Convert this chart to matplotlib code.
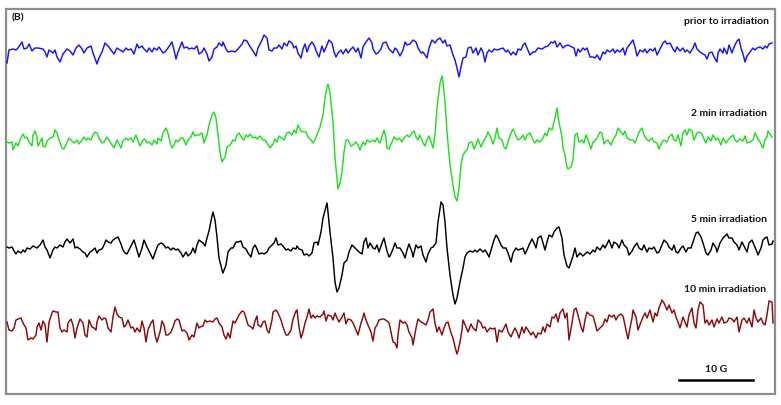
import numpy as np
import matplotlib
matplotlib.use("Agg")
import matplotlib.pyplot as plt

# ==========================================
# Traces, (field, y)
# field and y are in picture pixels
# ==========================================
prior = [
    (7, 63), (9, 50), (13, 49), (16, 50), (18, 48), (22, 42), (24, 49), (27, 48), (29, 44), (32, 51),
    (35, 48), (38, 48), (43, 49), (45, 52), (47, 57), (49, 50), (53, 53), (55, 50), (57, 57), (60, 62),
    (63, 54), (67, 49), (70, 51), (73, 55), (76, 48), (79, 45), (82, 49), (84, 53), (87, 48), (91, 46),
    (93, 53), (97, 64), (99, 58), (102, 52), (105, 43), (108, 46), (111, 50), (114, 54), (117, 48), (120, 50),
    (123, 52), (126, 48), (128, 50), (131, 49), (134, 54), (137, 44), (139, 48), (142, 46), (144, 49), (147, 52),
    (149, 48), (152, 52), (154, 48), (157, 50), (159, 47), (163, 53), (165, 52), (168, 48), (172, 42), (174, 50),
    (176, 59), (178, 52), (182, 42), (184, 48), (187, 47), (189, 49), (192, 48), (194, 49), (197, 46), (199, 54),
    (202, 52), (204, 48), (207, 54), (209, 61), (212, 57), (214, 49), (217, 47), (219, 43), (222, 46), (223, 42),
    (226, 49), (228, 52), (232, 51), (235, 52), (238, 49), (242, 44), (244, 40), (247, 41), (249, 45), (253, 51),
    (256, 56), (258, 48), (262, 40), (264, 35), (267, 38), (269, 50), (272, 51), (274, 48), (277, 48), (279, 45),
    (282, 49), (284, 43), (287, 46), (289, 41), (292, 43), (294, 48), (296, 46), (298, 53), (301, 58), (303, 49),
    (305, 44), (307, 52), (309, 46), (312, 42), (314, 45), (317, 53), (319, 57), (322, 46), (324, 52), (327, 45),
    (329, 40), (332, 43), (334, 52), (336, 57), (338, 53), (341, 50), (343, 54), (346, 49), (348, 53), (351, 49),
    (353, 47), (356, 52), (358, 48), (361, 58), (363, 47), (366, 42), (369, 38), (372, 43), (373, 49), (376, 54),
    (378, 53), (381, 49), (383, 43), (386, 42), (389, 49), (390, 50), (393, 53), (395, 48), (397, 50), (400, 56),
    (403, 50), (405, 42), (407, 45), (410, 44), (413, 40), (416, 42), (418, 48), (421, 53), (423, 52), (427, 58),
    (429, 48), (432, 40), (435, 43), (437, 40), (440, 38), (443, 43), (445, 40), (447, 46), (450, 45), (453, 55),
    (455, 60), (457, 68), (459, 77), (461, 67), (463, 58), (466, 57), (468, 48), (471, 47), (473, 53), (476, 48),
    (478, 55), (481, 48), (483, 52), (485, 62), (487, 53), (489, 50), (492, 52), (494, 49), (497, 50), (500, 49),
    (503, 48), (506, 52), (508, 50), (511, 55), (513, 52), (516, 55), (518, 49), (521, 50), (523, 45), (525, 43),
    (527, 48), (530, 55), (533, 52), (535, 52), (538, 48), (542, 49), (545, 47), (548, 46), (551, 42), (553, 43),
    (555, 41), (557, 47), (560, 43), (563, 48), (565, 46), (568, 45), (572, 47), (574, 48), (576, 56), (578, 49),
    (580, 52), (583, 48), (585, 50), (587, 48), (590, 57), (593, 57), (595, 58), (597, 55), (600, 60), (603, 52),
    (605, 54), (607, 50), (610, 52), (613, 49), (615, 53), (617, 50), (620, 52), (623, 48), (625, 55), (627, 48),
    (630, 44), (633, 40), (635, 47), (637, 56), (640, 50), (643, 52), (645, 49), (647, 53), (650, 49), (653, 51),
    (655, 48), (657, 55), (660, 49), (663, 43), (665, 41), (667, 44), (670, 43), (673, 49), (675, 52), (677, 47),
    (680, 51), (683, 48), (685, 52), (687, 50), (690, 53), (693, 48), (695, 43), (697, 49), (700, 52), (703, 54),
    (705, 55), (707, 59), (709, 53), (712, 52), (714, 57), (717, 62), (718, 53), (720, 49), (723, 53), (724, 48),
    (727, 54), (729, 45), (732, 53), (734, 47), (737, 41), (739, 39), (741, 48), (743, 54), (745, 62), (747, 56),
    (750, 52), (753, 48), (755, 50), (757, 48), (760, 47), (763, 49), (765, 46), (767, 48), (769, 44), (772, 43),
]

min2 = [
    (7, 142), (9, 143), (12, 142), (13, 150), (16, 143), (18, 146), (20, 140), (23, 134), (25, 138), (27, 137),
    (29, 142), (32, 146), (33, 135), (35, 131), (37, 137), (38, 146), (40, 142), (42, 138), (43, 146), (45, 147),
    (47, 141), (50, 138), (53, 137), (55, 130), (57, 133), (59, 140), (62, 148), (64, 149), (67, 142), (69, 138),
    (72, 141), (74, 143), (77, 140), (79, 144), (82, 140), (84, 137), (86, 140), (88, 138), (91, 140), (93, 135),
    (95, 132), (97, 133), (99, 138), (102, 143), (104, 142), (107, 137), (109, 140), (112, 145), (114, 148), (117, 140),
    (118, 142), (121, 148), (123, 141), (126, 138), (128, 140), (131, 138), (133, 142), (136, 135), (138, 141), (140, 146),
    (143, 140), (145, 139), (147, 143), (149, 142), (152, 145), (154, 140), (157, 144), (158, 138), (161, 141), (163, 133),
    (166, 128), (168, 133), (170, 142), (172, 148), (174, 145), (176, 140), (178, 142), (181, 138), (183, 138), (186, 145),
    (188, 140), (191, 137), (193, 132), (195, 136), (197, 135), (199, 135), (202, 133), (204, 143), (207, 135), (209, 125),
    (212, 115), (214, 112), (216, 118), (218, 135), (220, 152), (222, 162), (225, 157), (227, 147), (230, 145), (233, 140),
    (235, 141), (237, 135), (239, 133), (242, 138), (244, 140), (246, 135), (248, 137), (250, 134), (253, 138), (255, 137),
    (257, 139), (260, 136), (263, 140), (265, 140), (267, 143), (270, 148), (273, 144), (275, 139), (277, 142), (279, 136),
    (282, 138), (284, 140), (287, 133), (289, 132), (292, 135), (294, 130), (296, 133), (298, 125), (301, 131), (303, 132),
    (306, 132), (308, 137), (311, 140), (313, 143), (315, 140), (317, 135), (320, 127), (323, 115), (325, 98), (327, 87),
    (328, 84), (330, 93), (333, 122), (335, 158), (337, 178), (338, 189), (340, 183), (342, 172), (344, 152), (346, 140),
    (348, 140), (351, 146), (353, 145), (356, 142), (358, 145), (360, 150), (363, 142), (365, 145), (367, 140), (370, 142),
    (373, 140), (375, 142), (377, 138), (380, 143), (383, 133), (384, 130), (386, 138), (387, 148), (389, 149), (392, 142),
    (394, 137), (397, 140), (399, 138), (402, 142), (404, 138), (407, 135), (409, 137), (412, 133), (414, 131), (416, 137),
    (418, 140), (420, 135), (423, 143), (425, 146), (427, 140), (429, 136), (432, 145), (433, 148), (435, 135), (437, 108),
    (440, 83), (442, 76), (443, 82), (445, 102), (447, 132), (450, 165), (453, 185), (455, 197), (457, 201), (459, 188),
    (461, 165), (463, 155), (465, 152), (467, 150), (469, 143), (472, 142), (474, 149), (476, 145), (478, 139), (481, 147),
    (483, 142), (486, 137), (488, 132), (491, 138), (493, 144), (495, 138), (497, 128), (499, 138), (502, 140), (504, 147),
    (506, 149), (508, 142), (511, 133), (513, 129), (516, 136), (518, 140), (521, 138), (523, 135), (525, 140), (527, 135),
    (530, 133), (533, 140), (535, 143), (537, 140), (540, 142), (543, 138), (545, 133), (547, 136), (549, 128), (552, 130),
    (554, 122), (557, 108), (559, 122), (562, 137), (563, 148), (565, 155), (567, 167), (568, 169), (571, 167), (573, 160),
    (575, 135), (577, 133), (579, 142), (582, 140), (584, 143), (586, 135), (588, 140), (591, 149), (593, 142), (595, 141),
    (597, 138), (600, 132), (602, 133), (604, 144), (606, 141), (608, 140), (611, 145), (613, 140), (616, 135), (618, 128),
    (621, 132), (623, 135), (625, 131), (627, 138), (630, 140), (633, 140), (635, 143), (637, 138), (639, 132), (642, 128),
    (644, 135), (647, 140), (649, 141), (652, 138), (654, 142), (657, 143), (659, 149), (662, 142), (664, 140), (667, 142),
    (669, 137), (672, 134), (674, 140), (676, 141), (678, 135), (681, 146), (683, 133), (685, 130), (687, 135), (689, 129),
    (692, 131), (694, 140), (697, 133), (699, 132), (702, 134), (704, 139), (706, 143), (708, 137), (711, 141), (713, 135),
    (716, 140), (718, 138), (721, 145), (723, 138), (726, 143), (728, 140), (731, 137), (733, 135), (735, 140), (737, 142),
    (740, 139), (743, 141), (745, 136), (747, 143), (750, 142), (753, 140), (755, 133), (757, 137), (760, 142), (763, 148),
    (765, 140), (767, 137), (768, 131), (770, 134), (772, 137),
]

min5 = [
    (7, 247), (9, 248), (12, 247), (14, 251), (16, 254), (18, 251), (21, 253), (23, 250), (25, 252), (27, 248),
    (30, 249), (33, 246), (35, 247), (37, 248), (40, 245), (43, 240), (45, 247), (47, 250), (50, 258), (53, 250),
    (55, 247), (57, 248), (60, 245), (63, 247), (65, 242), (67, 239), (70, 243), (73, 239), (75, 248), (77, 247),
    (80, 249), (83, 252), (85, 253), (87, 257), (90, 252), (93, 250), (95, 248), (97, 253), (99, 250), (102, 249),
    (104, 245), (106, 240), (108, 242), (111, 243), (113, 240), (116, 238), (118, 237), (121, 244), (123, 250), (125, 253),
    (127, 254), (129, 250), (132, 244), (134, 240), (137, 250), (139, 257), (142, 248), (144, 240), (147, 247), (149, 251),
    (152, 257), (153, 259), (156, 250), (158, 245), (161, 243), (163, 244), (166, 248), (168, 247), (171, 250), (173, 248),
    (176, 250), (178, 249), (181, 253), (183, 257), (186, 252), (188, 256), (191, 253), (193, 248), (195, 253), (197, 245),
    (199, 240), (203, 243), (205, 246), (207, 238), (209, 231), (212, 216), (213, 212), (215, 220), (217, 237), (219, 258),
    (222, 270), (223, 273), (226, 265), (228, 252), (231, 248), (233, 248), (236, 242), (238, 242), (241, 241), (243, 247),
    (246, 249), (248, 253), (251, 257), (253, 248), (255, 245), (257, 249), (259, 254), (262, 253), (264, 254), (267, 252),
    (269, 248), (272, 245), (274, 243), (276, 238), (278, 245), (281, 244), (283, 246), (286, 250), (288, 249), (291, 251),
    (293, 248), (296, 249), (297, 246), (299, 249), (302, 250), (304, 255), (307, 254), (309, 256), (312, 253), (314, 243),
    (317, 242), (318, 245), (321, 232), (323, 218), (326, 207), (327, 203), (328, 212), (330, 232), (333, 258), (335, 282),
    (337, 292), (339, 288), (342, 275), (344, 263), (347, 260), (349, 252), (352, 245), (354, 247), (357, 250), (359, 252),
    (362, 254), (364, 242), (366, 238), (368, 248), (370, 243), (373, 248), (375, 249), (377, 245), (379, 252), (382, 243),
    (384, 238), (387, 251), (389, 257), (390, 256), (393, 249), (395, 243), (397, 248), (400, 248), (403, 253), (405, 258),
    (407, 250), (409, 244), (412, 252), (413, 257), (416, 245), (418, 248), (421, 246), (423, 255), (426, 262), (428, 254),
    (431, 248), (433, 247), (436, 243), (438, 222), (441, 202), (443, 205), (445, 222), (447, 248), (450, 275), (453, 295),
    (455, 304), (457, 298), (460, 282), (463, 268), (465, 257), (467, 253), (470, 251), (473, 252), (475, 250), (477, 252),
    (480, 249), (483, 252), (485, 250), (487, 253), (489, 257), (492, 247), (494, 240), (496, 235), (498, 238), (501, 245),
    (503, 248), (506, 248), (508, 253), (511, 262), (513, 253), (516, 248), (518, 250), (521, 249), (523, 248), (525, 254),
    (527, 250), (529, 245), (532, 239), (534, 243), (536, 248), (538, 238), (541, 236), (543, 243), (545, 250), (547, 242),
    (549, 235), (552, 237), (554, 232), (557, 228), (559, 227), (562, 238), (564, 255), (567, 266), (569, 268), (573, 256),
    (575, 248), (577, 257), (580, 253), (583, 256), (585, 254), (587, 252), (590, 254), (593, 250), (595, 252), (597, 247),
    (600, 250), (603, 245), (605, 248), (607, 244), (609, 240), (612, 248), (614, 242), (617, 244), (619, 248), (622, 240),
    (624, 245), (627, 248), (629, 255), (632, 251), (634, 247), (637, 243), (639, 248), (642, 250), (644, 245), (647, 252),
    (649, 248), (652, 249), (654, 247), (657, 253), (659, 252), (662, 245), (664, 240), (667, 243), (669, 247), (672, 250),
    (674, 245), (676, 252), (678, 253), (681, 248), (683, 246), (686, 252), (688, 248), (691, 248), (693, 242), (696, 233),
    (698, 232), (701, 237), (703, 243), (706, 253), (708, 255), (711, 250), (713, 243), (716, 248), (717, 252), (720, 243),
    (723, 238), (725, 236), (727, 234), (729, 238), (732, 238), (734, 242), (737, 245), (739, 250), (742, 242), (744, 246),
    (747, 252), (749, 243), (752, 240), (754, 245), (757, 252), (758, 255), (761, 248), (763, 240), (765, 238), (767, 237),
    (769, 245), (772, 244), (773, 241),
]

min10 = [
    (7, 322), (9, 330), (12, 331), (14, 328), (16, 320), (18, 319), (21, 318), (23, 323), (26, 328), (28, 340),
    (31, 338), (33, 339), (36, 335), (37, 327), (39, 323), (41, 330), (43, 321), (45, 325), (47, 342), (49, 322),
    (52, 313), (53, 311), (56, 312), (58, 312), (60, 328), (62, 332), (64, 330), (67, 332), (68, 323), (71, 319),
    (73, 325), (75, 338), (77, 328), (80, 319), (83, 323), (85, 335), (87, 337), (89, 320), (92, 327), (94, 328),
    (96, 330), (97, 322), (99, 316), (102, 320), (104, 318), (106, 319), (108, 328), (111, 332), (113, 317), (115, 307),
    (117, 314), (119, 317), (122, 318), (124, 327), (126, 325), (128, 320), (131, 328), (133, 327), (135, 332), (137, 328),
    (140, 332), (142, 321), (144, 328), (146, 342), (148, 330), (151, 323), (153, 320), (155, 335), (157, 342), (160, 332),
    (162, 321), (164, 325), (166, 335), (168, 335), (171, 332), (173, 327), (175, 321), (177, 319), (179, 320), (182, 331),
    (184, 330), (187, 333), (189, 340), (192, 335), (194, 337), (197, 323), (199, 328), (200, 327), (203, 326), (205, 320),
    (207, 322), (210, 321), (213, 322), (215, 319), (217, 318), (219, 323), (222, 327), (224, 335), (226, 339), (228, 333),
    (230, 338), (233, 321), (235, 323), (237, 319), (239, 315), (242, 311), (244, 312), (246, 318), (248, 325), (251, 327),
    (253, 329), (255, 321), (257, 316), (258, 325), (261, 327), (263, 322), (265, 321), (267, 330), (269, 333), (272, 320),
    (273, 312), (276, 310), (278, 313), (281, 320), (283, 327), (286, 335), (288, 335), (291, 330), (293, 319), (296, 311),
    (297, 310), (299, 327), (301, 338), (303, 332), (305, 323), (307, 317), (309, 309), (311, 318), (313, 315), (315, 318),
    (317, 316), (320, 317), (323, 314), (324, 311), (326, 321), (328, 315), (331, 316), (333, 320), (335, 313), (337, 318),
    (339, 322), (342, 317), (344, 313), (346, 324), (348, 319), (351, 320), (353, 323), (356, 330), (358, 335), (361, 323),
    (363, 317), (364, 313), (366, 320), (368, 325), (371, 332), (373, 341), (375, 328), (377, 325), (379, 320), (382, 319),
    (384, 319), (387, 321), (389, 323), (390, 327), (393, 342), (395, 343), (397, 348), (398, 335), (400, 320), (403, 323),
    (405, 322), (407, 325), (409, 332), (412, 338), (413, 345), (416, 328), (418, 319), (421, 322), (423, 323), (426, 325),
    (428, 320), (430, 312), (433, 309), (435, 323), (437, 332), (439, 327), (442, 335), (444, 328), (446, 323), (448, 322),
    (451, 333), (453, 338), (455, 347), (457, 354), (458, 351), (460, 342), (462, 330), (463, 320), (466, 327), (468, 332),
    (471, 324), (473, 328), (476, 331), (478, 320), (481, 323), (483, 328), (485, 327), (487, 332), (490, 328), (493, 329),
    (495, 328), (497, 342), (499, 330), (502, 332), (504, 328), (506, 324), (508, 332), (511, 337), (513, 332), (515, 328),
    (517, 332), (519, 338), (522, 327), (524, 333), (526, 327), (528, 330), (531, 335), (533, 332), (536, 338), (538, 333),
    (541, 334), (543, 327), (545, 332), (547, 324), (550, 327), (552, 317), (554, 318), (556, 314), (558, 322), (560, 313),
    (563, 309), (565, 318), (567, 313), (569, 340), (572, 323), (574, 310), (576, 308), (578, 315), (581, 327), (583, 332),
    (585, 320), (587, 312), (590, 315), (593, 316), (595, 323), (597, 331), (600, 328), (603, 325), (605, 319), (607, 322),
    (609, 315), (612, 317), (614, 315), (616, 320), (618, 316), (621, 314), (623, 316), (625, 325), (627, 335), (628, 339),
    (630, 328), (632, 318), (633, 310), (636, 317), (638, 330), (641, 322), (643, 317), (645, 313), (647, 318), (650, 310),
    (653, 322), (655, 313), (657, 316), (659, 308), (662, 300), (664, 303), (667, 310), (669, 305), (672, 313), (674, 310),
    (676, 317), (678, 322), (680, 328), (683, 317), (685, 322), (687, 327), (689, 315), (692, 308), (694, 323), (696, 328),
    (698, 310), (700, 302), (703, 305), (705, 323), (707, 320), (709, 325), (712, 320), (714, 327), (717, 319), (719, 323),
    (722, 317), (724, 323), (727, 322), (729, 318), (732, 319), (734, 322), (737, 317), (739, 332), (742, 320), (744, 318),
    (747, 323), (749, 318), (752, 327), (754, 310), (756, 318), (758, 322), (761, 318), (763, 323), (765, 325), (767, 315),
    (769, 301), (772, 302), (773, 323),
]

trace_labels = ["prior to irradiation", "2 min irradiation", "5 min irradiation", "10 min irradiation"]
trace_colors = ["#1414ff", "#22dd22", "#000000", "#8b0a0a"]
panel_label = "(B)"
scale_label = "10 G"
scale_bar = (679, 753)   # field span of 10 G

# =====================
# Figure in pixel units
# =====================
fig = plt.figure(figsize=(7.81, 4.05), dpi=100)
ax = fig.add_axes([0, 0, 1, 1])
ax.set_xlim(0, 781)
ax.set_ylim(405, 0)
ax.axis("off")

for data, color in zip([prior, min2, min5, min10], trace_colors):
    arr = np.array(data, dtype=float)
    ax.plot(arr[:, 0], arr[:, 1], color=color, lw=1.05, solid_joinstyle="round")

# panel frame
ax.add_patch(plt.Rectangle((6, 9), 769, 385, fill=False, ec="#8c8c8c", lw=1.6))

font = dict(family=["Lato", "DejaVu Sans"], fontweight="bold", fontsize=7.5, color="#111111")
label_pos = [(769, 21), (767, 114), (767, 219), (766, 290)]
for text, (x, y) in zip(trace_labels, label_pos):
    ax.text(x, y, text, ha="right", va="center", **font)

ax.text(12, 18, panel_label, ha="left", va="center", **dict(font, fontsize=7.5))

ax.plot(scale_bar, [380, 380], color="black", lw=1.8)
ax.text(sum(scale_bar) / 2, 369, scale_label, ha="center", va="center", **font)

fig.savefig("out.png", dpi=100)
